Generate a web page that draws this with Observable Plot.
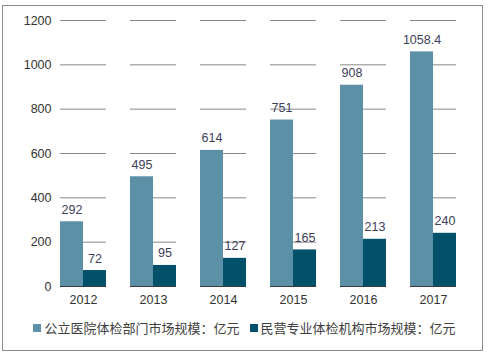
<!DOCTYPE html>
<html>
<head>
<meta charset="utf-8">
<script src="https://cdn.jsdelivr.net/npm/d3@7"></script>
<script src="https://cdn.jsdelivr.net/npm/@observablehq/plot@0.6"></script>
<style>
  body { margin: 0; background: #fff; }
  #wrap { position: relative; width: 489px; height: 356px; overflow: hidden; font-family: "Liberation Sans", Arial, sans-serif; }
  #frame { position: absolute; left: 2px; top: 5px; width: 479px; height: 344px; border: 1px solid #8c8c8c; box-sizing: content-box; }
  #chart { position: absolute; left: 0; top: 0; }
  #legend { position: absolute; left: 0; top: 318px; width: 489px; display: flex; justify-content: center; gap: 10px; font-family: "Noto Sans CJK SC", sans-serif; font-size: 13px; color: #404040; }
  .item { display: flex; align-items: center; gap: 3px; }
  .sw { width: 8px; height: 8px; display: inline-block; }
</style>
</head>
<body>
<div id="wrap">
  <div id="frame"></div>
  <div id="chart"></div>
  <div id="legend"></div>
</div>
<script>
const years = ["2012", "2013", "2014", "2015", "2016", "2017"];
const seriesNames = ["公立医院体检部门市场规模：亿元", "民营专业体检机构市场规模：亿元"];
const publicValues = [292, 495, 614, 751, 908, 1058.4];
const privateValues = [72, 95, 127, 165, 213, 240];
const colors = ["#5b90a7", "#02516b"];
const yTicks = [0, 200, 400, 600, 800, 1000, 1200];

const data = [];
years.forEach((y, i) => {
  data.push({year: y, series: seriesNames[0], value: publicValues[i]});
  data.push({year: y, series: seriesNames[1], value: privateValues[i]});
});

const chart = Plot.plot({
  width: 489,
  height: 310,
  marginTop: 20,
  marginBottom: 24,
  marginLeft: 48,
  marginRight: 21,
  style: {fontFamily: "Liberation Sans, Arial, sans-serif", fontSize: "12px", color: "#333333", background: "transparent"},
  fx: {domain: years, paddingInner: 0.343, paddingOuter: 0.1715, label: null},
  x: {domain: seriesNames, padding: 0, axis: null},
  y: {domain: [0, 1200], label: null},
  color: {domain: seriesNames, range: colors},
  marks: [
    Plot.axisY(yTicks, {tickSize: 0, tickPadding: 9, tickFormat: d => String(d), fontSize: 12.5, fill: "#333333", label: null}),
    Plot.axisFx({anchor: "bottom", tickSize: 0, tickPadding: 9, fontSize: 12.5, fill: "#333333", label: null}),
    Plot.ruleY(yTicks.filter(d => d > 0), {stroke: "#8a8a8a", strokeWidth: 1, strokeOpacity: 1}),
    Plot.barY(data, {fx: "year", x: "series", y: "value", fill: "series"}),
    Plot.ruleY([0], {stroke: "#3a3a3a", strokeWidth: 1}),
    Plot.text(data, {fx: "year", x: "series", y: "value", text: d => String(d.value), dy: -12, fill: "#3d4058", fontSize: 12.5})
  ]
});
document.getElementById("chart").appendChild(chart);

const legend = document.getElementById("legend");
seriesNames.forEach((name, i) => {
  const item = document.createElement("div");
  item.className = "item";
  const sw = document.createElement("span");
  sw.className = "sw";
  sw.style.background = colors[i];
  const label = document.createElement("span");
  label.textContent = name;
  item.appendChild(sw);
  item.appendChild(label);
  legend.appendChild(item);
});
</script>
</body>
</html>
